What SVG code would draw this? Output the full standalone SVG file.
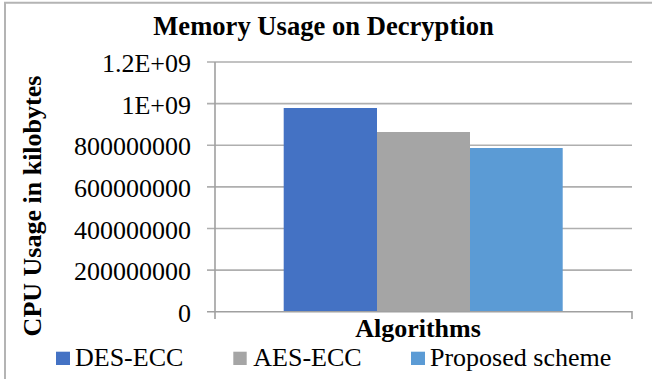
<svg xmlns="http://www.w3.org/2000/svg" width="652" height="379" viewBox="0 0 652 379" font-family="'Liberation Serif', serif">
  <style>
    text { font-family: 'Liberation Serif', serif; font-size: 26px; fill: #000; }
    .bold { font-weight: bold; }
    .title { font-size: 26.6px; }
    .grid { stroke: #AFAFAF; stroke-width: 1.6; fill: none; }
    .axis { stroke: #A0A0A0; stroke-width: 1.6; fill: none; }
    .frame { stroke: #B4B4B4; stroke-width: 2; fill: none; }
  </style>
  <rect x="0" y="0" width="652" height="379" fill="#FFFFFF"/>
  <!-- chart frame (left and top edges) -->
  <path class="frame" d="M5,379 V2.7 H652"/>

  <!-- title -->
  <text class="bold title" x="323.5" y="35" text-anchor="middle">Memory Usage on Decryption</text>

  <!-- horizontal gridlines with tick marks -->
  <g id="gridlines">
    <path class="grid" d="M207,62 H632 M207,103.6 H632 M207,145.2 H632 M207,186.9 H632 M207,228.5 H632 M207,270.1 H632"/>
  </g>

  <!-- y-axis tick labels -->
  <g id="y-labels" text-anchor="end">
    <text x="191" y="72">1.2E+09</text>
    <text x="191" y="113.6">1E+09</text>
    <text x="191" y="155.2">800000000</text>
    <text x="191" y="196.9">600000000</text>
    <text x="191" y="238.5">400000000</text>
    <text x="191" y="280.1">200000000</text>
    <text x="191" y="321.7">0</text>
  </g>

  <!-- bars -->
  <g id="bar-des-ecc"><rect x="283.7" y="108" width="93.3" height="203.7" fill="#4472C4"/></g>
  <g id="bar-aes-ecc"><rect x="377" y="132" width="93" height="179.7" fill="#A5A5A5"/></g>
  <g id="bar-proposed"><rect x="470" y="148" width="92.7" height="163.7" fill="#5B9BD5"/></g>

  <!-- axes -->
  <g id="axes">
    <path class="axis" d="M215,62 V319 M207,311.7 H632 V319"/>
  </g>

  <!-- axis titles -->
  <text class="bold" x="418" y="336.5" text-anchor="middle">Algorithms</text>
  <text class="bold" transform="translate(41,206) rotate(-90)" text-anchor="middle">CPU Usage in kilobytes</text>

  <!-- legend -->
  <g id="legend">
    <g id="legend-des-ecc">
      <rect x="56" y="351.7" width="14" height="13.3" fill="#4472C4"/>
      <text x="75" y="366">DES-ECC</text>
    </g>
    <g id="legend-aes-ecc">
      <rect x="233.3" y="351.7" width="13.4" height="13.3" fill="#A5A5A5"/>
      <text x="253.3" y="366">AES-ECC</text>
    </g>
    <g id="legend-proposed">
      <rect x="411" y="351.7" width="14" height="13.3" fill="#5B9BD5"/>
      <text x="430" y="366">Proposed scheme</text>
    </g>
  </g>
</svg>
